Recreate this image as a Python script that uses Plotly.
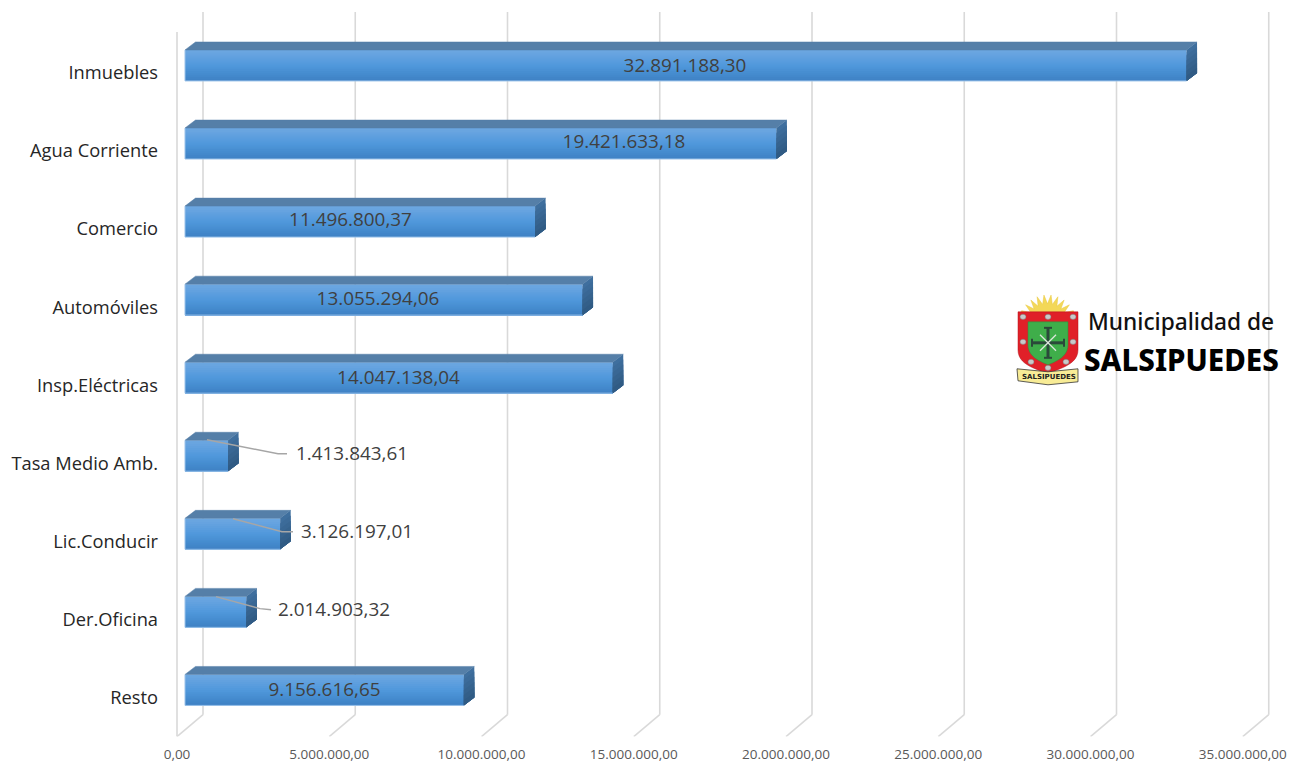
import math
import plotly.graph_objects as go

# ---- data ----
categories = ["Inmuebles", "Agua Corriente", "Comercio", "Automóviles", "Insp.Eléctricas",
              "Tasa Medio Amb.", "Lic.Conducir", "Der.Oficina", "Resto"]
values = [32891188.30, 19421633.18, 11496800.37, 13055294.06, 14047138.04,
          1413843.61, 3126197.01, 2014903.32, 9156616.65]
tick_values = [0, 5000000, 10000000, 15000000, 20000000, 25000000, 30000000, 35000000]


def es(v):
    return f"{v:,.2f}".replace(",", "#").replace(".", ",").replace("#", ".")


# ---- page geometry (pixels) ----
W, H = 1305, 766.4
PLOT_L, PLOT_B = 162, 737
X0_PX, PX_PER_UNIT = 177, 152.25 / 5000000
Y0_PX, PX_PER_CAT = 72, 78.1


def dx(px):
    return px / PX_PER_UNIT


def dy(px):
    return px / PX_PER_CAT


def xd(px):
    return (px - X0_PX) / PX_PER_UNIT


def yd(py):
    return (py - Y0_PX) / PX_PER_CAT


BAR_BASE = dx(8)
DEPTH_X, DEPTH_Y = dx(10.5), dy(8)
BAR_TOP, BAR_H = dy(-22), dy(31)
idx = list(range(len(categories)))

fig = go.Figure()

# front face: vertical gradient, each strip painted over the previous one down to the bar's foot
front_stops = ["#6ba6e0", "#69a5e0", "#66a3e0", "#62a1df", "#5e9fde", "#5a9dde", "#569bdd", "#5299dc",
               "#4f97da", "#4c94d7", "#4a91d4", "#478ed1", "#458bce", "#4388cb", "#4185c8", "#4083c6"]
n = len(front_stops)
for k, col in enumerate(front_stops):
    fig.add_trace(go.Bar(
        x=values, y=idx, base=[BAR_BASE] * len(values), orientation="h",
        width=BAR_H * (n - k) / n, offset=BAR_TOP + BAR_H * k / n,
        marker=dict(color=col, line=dict(width=0)), showlegend=False, hoverinfo="skip"))

# top face
tx, ty = [], []
for v, i in zip(values, idx):
    y0 = i + BAR_TOP
    l, r = BAR_BASE, BAR_BASE + v
    tx += [l, r, r + DEPTH_X, l + DEPTH_X, l, None]
    ty += [y0, y0, y0 - DEPTH_Y, y0 - DEPTH_Y, y0, None]
fig.add_trace(go.Scatter(x=tx, y=ty, mode="lines", fill="toself", fillcolor="#557fa8",
                         line=dict(width=0.5, color="#557fa8"), showlegend=False, hoverinfo="skip"))

# side face: gradient strips
side_stops = ["#3f6f9e", "#3c6b99", "#396794", "#36638e", "#335f89", "#305b84"]
m = len(side_stops)
for k, col in enumerate(side_stops):
    sx, sy = [], []
    a, b = BAR_H * k / m, BAR_H
    for v, i in zip(values, idx):
        r = BAR_BASE + v
        y0 = i + BAR_TOP
        sx += [r, r + DEPTH_X, r + DEPTH_X, r, r, None]
        sy += [y0 + a, y0 + a - DEPTH_Y, y0 + b - DEPTH_Y, y0 + b, y0 + a, None]
    fig.add_trace(go.Scatter(x=sx, y=sy, mode="lines", fill="toself", fillcolor=col,
                             line=dict(width=0, color=col), showlegend=False, hoverinfo="skip"))

# pale edge of the front face
ex, ey = [], []
for v, i in zip(values, idx):
    y0 = i + BAR_TOP
    ex += [BAR_BASE, BAR_BASE, BAR_BASE + v, None]
    ey += [y0, y0 + BAR_H, y0 + BAR_H, None]
fig.add_trace(go.Scatter(x=ex, y=ey, mode="lines", line=dict(width=1, color="#9cc3ea"),
                         showlegend=False, hoverinfo="skip"))

LABEL_FONT = dict(family="Open Sans", size=18.9, color="#404040")

# value labels placed on the bars (label centre on the page, in pixels)
inside_pos = {"Inmuebles": (685, 67.5), "Agua Corriente": (624, 143.5), "Comercio": (350.5, 221.5),
              "Automóviles": (378, 300.5), "Insp.Eléctricas": (398.5, 379.5), "Resto": (324.5, 691.5)}
for c, (lx, ly) in inside_pos.items():
    fig.add_trace(go.Scatter(x=[xd(lx)], y=[yd(ly)], text=[es(values[categories.index(c)])],
                             mode="text", textposition="middle center", textfont=LABEL_FONT,
                             showlegend=False, hoverinfo="skip"))

# leader lines and outside labels (start of the label on the page, in pixels)
leaders = {
    "Tasa Medio Amb.": ([(207, 440), (278, 454), (287, 454)], 296),
    "Lic.Conducir": ([(233, 519), (282, 532), (293, 532)], 301),
    "Der.Oficina": ([(216, 597), (260, 609), (271, 610)], 278),
}
for c, (pts, start) in leaders.items():
    v = values[categories.index(c)]
    fig.add_trace(go.Scatter(x=[xd(p[0]) for p in pts], y=[yd(p[1]) for p in pts], mode="lines",
                             line=dict(color="#a6a6a6", width=1.4), showlegend=False, hoverinfo="skip"))
    fig.add_trace(go.Scatter(x=[xd(start)], y=[yd(pts[-1][1] + 2)], text=[es(v)], mode="text",
                             textposition="middle right", textfont=LABEL_FONT,
                             showlegend=False, hoverinfo="skip"))

# 3-D wall and floor lines
shapes = []
GRID = dict(color="#d9d9d9", width=1.6)
shapes.append(dict(type="line", xref="x", yref="y", layer="below", x0=0, x1=0,
                   y0=yd(32), y1=yd(737), line=GRID))
for t in tick_values:
    shapes.append(dict(type="line", xref="x", yref="y", layer="below", x0=t + dx(26), x1=t + dx(26),
                       y0=yd(12), y1=yd(715), line=GRID))
    shapes.append(dict(type="line", xref="x", yref="y", layer="below", x0=t, x1=t + dx(26),
                       y0=yd(737), y1=yd(715), line=GRID))


# ---- logo drawn in page pixels ----
def px(x, y):
    return f"{x / W:.5f} {1 - y / H:.5f}"


def path(points, close=True):
    s = "M " + " L ".join(px(*p) for p in points)
    return s + (" Z" if close else "")


def bez(p0, p1, p2, p3):
    out = []
    for k in range(13):
        t = k / 12
        u = 1 - t
        out.append((u**3 * p0[0] + 3 * u * u * t * p1[0] + 3 * u * t * t * p2[0] + t**3 * p3[0],
                    u**3 * p0[1] + 3 * u * u * t * p1[1] + 3 * u * t * t * p2[1] + t**3 * p3[1]))
    return out


def add_path(points, fill, line=None, lw=0):
    shapes.append(dict(type="path", xref="paper", yref="paper", layer="above", path=path(points),
                       fillcolor=fill, line=dict(color=line or fill, width=lw)))


def add_line(a0, b0, a1, b1, color, width):
    shapes.append(dict(type="line", xref="paper", yref="paper", layer="above", x0=a0 / W, x1=a1 / W,
                       y0=1 - b0 / H, y1=1 - b1 / H, line=dict(color=color, width=width)))


# sun rays
sun = [(1074, 314)]
cx, cy = 1047.5, 324
for k in range(19):
    a = math.pi * (0.15 + 0.7 * k / 18)
    r = 29 if k % 2 == 0 else 20
    sun.append((cx + r * math.cos(a), cy - r * math.sin(a)))
sun.append((1021, 314))
add_path(sun, "#f3d858", "#e8c840", 0.5)

# shield
right = bez((1078, 350), (1078, 364), (1062, 368), (1047.5, 374))
left = bez((1047.5, 374), (1033, 368), (1018, 364), (1018, 350))
add_path([(1018, 312), (1078, 312)] + right + left, "#e02028", "#b5121b", 0.5)
gright = bez((1068, 345), (1068, 356), (1058, 361), (1048, 365))
gleft = bez((1048, 365), (1038, 361), (1028, 356), (1028, 345))
add_path([(1028, 322), (1068, 322)] + gright + gleft, "#3fae4a", "#2f8e3a", 0.5)
for ox, oy in [(1023, 317), (1048, 317), (1073, 317), (1023, 342), (1073, 342),
               (1031, 362), (1066, 362), (1048, 368)]:
    shapes.append(dict(type="circle", xref="paper", yref="paper", layer="above",
                       x0=(ox - 3) / W, x1=(ox + 3) / W, y0=1 - (oy + 2.6) / H, y1=1 - (oy - 2.6) / H,
                       fillcolor="#c9c9c9", line=dict(color="#777777", width=0.5)))
# cross
add_line(1048, 328, 1048, 358, "#2a4a3a", 3)
add_line(1032, 343, 1064, 343, "#2a4a3a", 3)
add_line(1044, 328, 1052, 328, "#2a4a3a", 2)
add_line(1044, 358, 1052, 358, "#2a4a3a", 2)
add_line(1032, 339, 1032, 347, "#2a4a3a", 2)
add_line(1064, 339, 1064, 347, "#2a4a3a", 2)
add_line(1040, 335, 1056, 351, "#dfe8df", 1.3)
add_line(1056, 335, 1040, 351, "#dfe8df", 1.3)
# ribbon
add_path([(1017, 369), (1048, 372), (1078, 369), (1078, 382), (1048, 385), (1018, 381)],
         "#f8ec96", "#333333", 0.8)

annotations = [
    dict(text="SALSIPUEDES", xref="paper", yref="paper", x=1049 / W, y=1 - 377 / H, showarrow=False,
         xanchor="center", yanchor="middle",
         font=dict(family="DejaVu Sans", size=7, color="#222222", weight="bold")),
    dict(text="Municipalidad de", xref="paper", yref="paper", x=1181 / W, y=1 - 322 / H, showarrow=False,
         xanchor="center", yanchor="middle",
         font=dict(family="Noto Sans", size=22.7, color="#111111", weight=500)),
    dict(text="SALSIPUEDES", xref="paper", yref="paper", x=1181.5 / W, y=1 - 359.5 / H, showarrow=False,
         xanchor="center", yanchor="middle",
         font=dict(family="Noto Sans", size=29.5, color="#000000", weight=800)),
]

fig.update_layout(
    width=W, height=H, autosize=False,
    margin=dict(l=0, r=0, t=0, b=0), paper_bgcolor="white", plot_bgcolor="white",
    barmode="overlay", showlegend=False, shapes=shapes, annotations=annotations,
    xaxis=dict(domain=[PLOT_L / W, 1], range=[xd(PLOT_L), xd(W)], tickvals=tick_values,
               ticktext=[es(t) for t in tick_values], showgrid=False, zeroline=False, showline=False,
               ticks="", ticklabelstandoff=8,
               tickfont=dict(family="Open Sans", size=13.5, color="#595959")),
    yaxis=dict(domain=[1 - PLOT_B / H, 1], range=[yd(PLOT_B), yd(0)],
               tickvals=[i + dy(1) for i in idx], ticktext=categories,
               showgrid=False, zeroline=False, showline=False, ticks="", ticklabelstandoff=3,
               tickfont=dict(family="Open Sans", size=18.3, color="#262626")),
)

fig.write_html("out.html", config=dict(displayModeBar=False),
               post_script="document.body.style.margin='0';")
